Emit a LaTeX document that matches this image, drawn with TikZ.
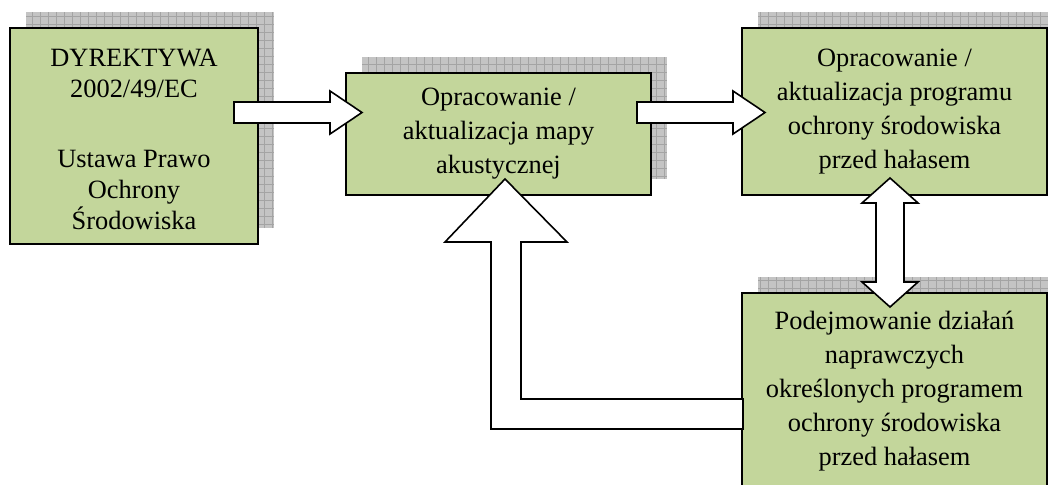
\documentclass[tikz,border=0pt]{standalone}
\usepackage{fontspec}
\setmainfont{Liberation Serif}
\usetikzlibrary{calc}
\definecolor{boxgreen}{HTML}{C3D69B}
\definecolor{shadowfill}{HTML}{C4C4C4}
\definecolor{shadowline}{HTML}{A4A4A4}
\newcommand\gridshadow[2]{%
  \begin{scope}
    \clip (#1) rectangle (#2);
    \fill[shadowfill] (#1) rectangle (#2);
    \draw[shadowline, line width=0.6pt, step=8pt] (#1) grid (#2);
  \end{scope}}
\newcommand\harrow[2]{%
  \draw[blockarrow] ($(#1)+(0,-10.5)$) -- ($(#2)+(-32,-10.5)$) -- ($(#2)+(-32,-21.5)$)
    -- (#2) -- ($(#2)+(-32,21.5)$) -- ($(#2)+(-32,10.5)$) -- ($(#1)+(0,10.5)$) -- cycle;}
\begin{document}
\begin{tikzpicture}[x=1pt,y=-1pt,
  box/.style={draw=black, line width=1.6pt, fill=boxgreen, align=center, inner sep=0pt,
    font=\fontsize{26.4}{34}\selectfont},
  blockarrow/.style={draw=black, fill=white, line width=1.6pt, line join=miter}]
\useasboundingbox (0,0) rectangle (1048,484);
\clip (0,0) rectangle (1048,484);

% shadows
\gridshadow{26,12}{274,228}
\gridshadow{362,57}{667,179}
\gridshadow{758,12}{1063,179}
\gridshadow{758,277}{1063,520}

% boxes
\node[box, minimum width=248, minimum height=216, font=\fontsize{26.4}{31}\selectfont] (b1) at (134,136)
  {\rule{0pt}{24.5pt}DYREKTYWA\\2002/49/EC\\[39pt]Ustawa Prawo\\Ochrony\\Środowiska};
\node[box, minimum width=305, minimum height=122] (b2) at (498.5,134)
  {Opracowanie /\\aktualizacja mapy\\akustycznej};
\node[box, minimum width=305, minimum height=167] (b3) at (894.5,111.5)
  {Opracowanie /\\aktualizacja programu\\ochrony środowiska\\przed hałasem};
\node[box, minimum width=305, minimum height=196] (b4) at (894.5,391)
  {Podejmowanie działań\\naprawczych\\określonych programem\\ochrony środowiska\\przed hałasem};

% block arrows
\coordinate (a1s) at (234,112.5);
\coordinate (a1e) at (362,112.5);
\harrow{a1s}{a1e}
\coordinate (a2s) at (637,112.5);
\coordinate (a2e) at (765,112.5);
\harrow{a2s}{a2e}

\coordinate (dt) at (890,178);
\coordinate (db) at (890,307);
\draw[blockarrow] (dt) -- ($(dt)+(28,25)$) -- ($(dt)+(14,25)$) -- ($(db)+(14,-25)$)
  -- ($(db)+(28,-25)$) -- (db) -- ($(db)+(-28,-25)$) -- ($(db)+(-14,-25)$)
  -- ($(dt)+(-14,25)$) -- ($(dt)+(-28,25)$) -- cycle;

\coordinate (bt) at (505,179);
\coordinate (bs) at (743,414);
\draw[blockarrow] (bt) -- ($(bt)+(62,63)$) -- ($(bt)+(16,63)$) -- ($(bt)+(16,220)$)
  -- ($(bs)+(0,-15)$) -- ($(bs)+(0,15)$) -- ($(bt)+(-14,250)$) -- ($(bt)+(-14,63)$)
  -- ($(bt)+(-60,63)$) -- cycle;
\end{tikzpicture}
\end{document}
